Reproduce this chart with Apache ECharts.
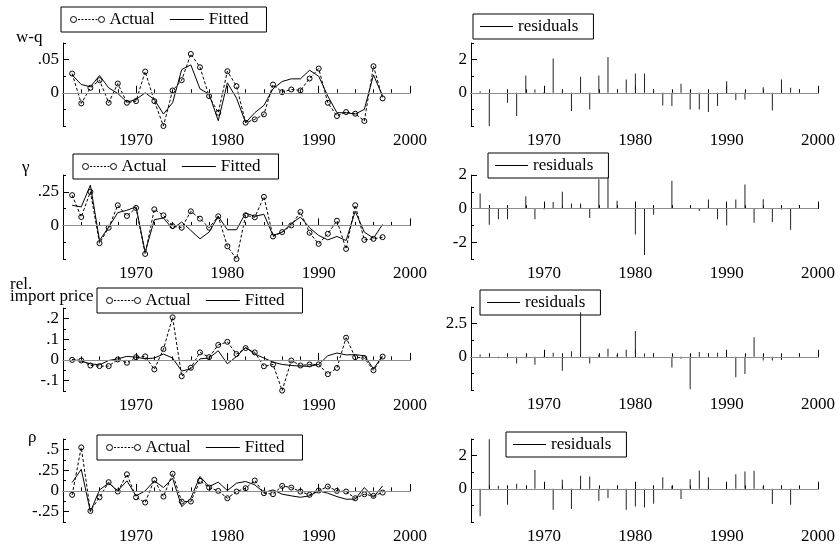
<!DOCTYPE html>
<html><head><meta charset="utf-8">
<script src="https://cdn.jsdelivr.net/npm/echarts@6/dist/echarts.min.js"></script>
<style>html,body{margin:0;padding:0;background:#fff}#c{width:840px;height:553px}</style>
</head><body><div id="c"></div>
<script>
// ---------------- data ----------------
const years = [1963,1964,1965,1966,1967,1968,1969,1970,1971,1972,1973,1974,1975,1976,1977,1978,1979,1980,1981,1982,1983,1984,1985,1986,1987,1988,1989,1990,1991,1992,1993,1994,1995,1996,1997];
const xTickLabels = [1970,1980,1990,2000];

const wqActual = [0.029,-0.016,0.0075,0.019,-0.015,0.014,-0.015,-0.0125,0.032,-0.0125,-0.05,0.0035,0.019,0.0585,0.0385,-0.005,-0.03,0.0325,0.01,-0.045,-0.04,-0.0325,0.0125,0.001,0.005,0.0035,0.0215,0.0365,-0.015,-0.035,-0.029,-0.0315,-0.0425,0.04,-0.0085];
const wqFitted = [0.027,0.0125,0.009,0.026,0.0075,-0.001,-0.014,-0.01,0,-0.01,-0.032,-0.015,0.035,0.042,0.006,-0.002,-0.042,0.015,-0.008,-0.045,-0.03,-0.019,0.006,0.017,0.021,0.021,0.034,0.025,-0.005,-0.03,-0.03,-0.032,-0.025,0.027,-0.005];
const wqResid = [0.1,-2.0,0,-0.6,-1.4,1.04,0.2,0.05,2.06,0.1,-1.1,0.96,-1.0,1.04,2.16,0,0.8,1.16,1.16,0.15,-0.76,-0.8,0.54,-1.0,-1.0,-1.16,-0.8,0.7,-0.44,-0.4,0,0.34,-1.06,0.8,0.3];

const gammaActual = [0.225,0.0625,0.25,-0.1325,-0.0175,0.15,0.07,0.13,-0.2125,0.12,0.075,-0.005,-0.0175,0.105,0.05,-0.0175,0.0675,-0.155,-0.25,0.075,0.06,0.2125,-0.0825,-0.05,0,0.1,-0.055,-0.1375,-0.0625,0.035,-0.175,0.15,-0.1075,-0.1,-0.0875];
const gammaFitted = [0.15,0.1375,0.3,-0.1125,-0.0125,0.095,0.1125,0.1375,-0.2,0.0425,0.055,-0.025,0.025,-0.0375,-0.1,-0.05,0.0675,-0.0325,-0.0325,0.0925,0.0675,0.0825,-0.075,-0.05,0.0125,0.0625,-0.0175,-0.075,-0.1075,-0.0825,-0.1125,0.105,-0.05,-0.095,0.0075];
const gammaResid = [0.9,-0.96,-0.64,-0.64,0,0.74,-0.64,-0.05,0.4,1.0,0.3,0.3,-0.56,1.74,1.85,0.46,0,-1.54,-2.76,-0.36,0,1.66,0.02,0,-0.15,0.54,-0.64,-1.0,0.54,1.44,-0.84,0.56,-0.8,-0.05,-1.26];

const impActual = [0,-0.003,-0.027,-0.03,-0.03,0.002,-0.014,0.013,0.017,-0.046,0.052,0.205,-0.079,-0.038,0.036,0.013,0.072,0.087,0.028,0.057,0.036,-0.031,-0.022,-0.148,-0.003,-0.027,-0.022,-0.022,-0.069,-0.039,0.107,0.013,0.009,-0.05,0.016];
const impFitted = [0.002,-0.006,-0.019,-0.024,-0.003,0.005,0.017,0.013,0.005,0.009,0.028,0.009,-0.054,-0.043,0.005,0.009,0.044,-0.019,0.016,0.06,0.028,0.009,-0.011,-0.022,-0.027,-0.03,-0.031,-0.022,0.02,0.033,0.024,0.025,0.02,-0.043,0.02];
const impResid = [0.17,-0.05,-0.1,-0.1,-0.5,-0.1,-0.6,0.05,0.3,-1.05,0.42,3.36,-0.5,0.17,0.6,0.15,0.54,1.94,0.25,0.05,0,-0.8,-0.15,-2.45,0.37,0,0.3,0,-1.54,-1.3,1.47,-0.27,-0.27,-0.25,0];

const rhoActual = [-0.048,0.524,-0.242,-0.077,0.105,-0.008,0.2,-0.077,-0.141,0.133,-0.069,0.206,-0.129,-0.129,0.121,0.04,0,-0.089,-0.008,0.032,0.125,-0.028,-0.04,0.06,0.04,-0.008,-0.048,0.004,0.052,0,-0.008,-0.089,-0.04,-0.06,-0.02];
const rhoFitted = [0.1,0.26,-0.25,0.012,0.093,0,0.121,-0.06,0,0.121,0.04,0.153,-0.19,-0.089,0.173,0.052,0.105,0.004,0.093,0.113,0.073,-0.02,0.012,-0.04,-0.06,-0.077,-0.06,0,-0.028,-0.069,-0.1,-0.1,0.04,-0.077,0.06];
const rhoResid = [-1.66,2.98,0.18,-0.96,0.3,0,1.14,0,-1.26,0.54,-1.22,0.78,0.74,-0.72,-0.56,0,-1.26,-1.06,-1.12,-0.9,0.7,0.18,-0.62,0.58,1.1,0.7,0,0,0.88,1.04,1.08,0.14,-0.92,0.1,-0.96];

// y tick labels per panel
const wqTicks = [0, 0.05];
const gammaTicks = [0, 0.25];
const impTicks = [-0.1, 0, 0.1, 0.2];
const rhoTicks = [-0.25, 0, 0.25, 0.5];
const wqResTicks = [0, 2];
const gammaResTicks = [-2, 0, 2];
const impResTicks = [0, 2.5];
const rhoResTicks = [0, 2];

// ---------------- layout ----------------
const FONT = 'Liberation Serif';
const FS = 17;
const panels = [
  {kind:'line', a:wqActual, f:wqFitted, min:-0.05, max:0.075, step:0.025, labels:wqTicks, left:63, top:43, h:83, legend:{left:61, top:7}},
  {kind:'bar', r:wqResid, min:-2, max:3, step:1, labels:wqResTicks, left:471, top:43, h:83, legend:{left:473, top:14}},
  {kind:'line', a:gammaActual, f:gammaFitted, min:-0.25, max:0.375, step:0.125, labels:gammaTicks, left:63, top:175, h:84, legend:{left:73, top:154}},
  {kind:'bar', r:gammaResid, min:-3, max:2, step:1, labels:gammaResTicks, left:471, top:175, h:84, legend:{left:488, top:153}},
  {kind:'line', a:impActual, f:impFitted, min:-0.15, max:0.25, step:0.05, labels:impTicks, left:63, top:308, h:83, legend:{left:97, top:288}},
  {kind:'bar', r:impResid, min:-2.5, max:3.75, step:1.25, labels:impResTicks, left:471, top:307, h:83, legend:{left:480, top:290}},
  {kind:'line', a:rhoActual, f:rhoFitted, min:-0.375, max:0.625, step:0.125, labels:rhoTicks, left:63, top:439, h:83, legend:{left:97, top:435}},
  {kind:'bar', r:rhoResid, min:-2, max:3, step:1, labels:rhoResTicks, left:471, top:439, h:83, legend:{left:506, top:432}}
];

function fmt(v){
  if (Math.abs(v) < 1e-9) return '0';
  const s = String(+v.toFixed(4));
  return s.replace(/^(-?)0\./, '$1.');
}
function inList(v, list, tol){ return list.some(t => Math.abs(t - v) < tol); }

function actualIcon(w){
  let p = 'M0 3 A3 3 0 1 1 6 3 A3 3 0 1 1 0 3 Z M' + (w-6) + ' 3 A3 3 0 1 1 ' + w + ' 3 A3 3 0 1 1 ' + (w-6) + ' 3 Z';
  for (let x = 7.5; x < w - 7; x += 3.5) p += ' M' + x + ' 3 L' + Math.min(x + 2, w - 7) + ' 3';
  return 'path://' + p;
}
function lineIcon(w){
  return 'path://M0 0 L0 0 M0 2.5 L' + w + ' 2.5 L' + w + ' 3.5 L0 3.5 Z M' + w + ' 6 L' + w + ' 6';
}

const grid = [], xAxis = [], yAxis = [], series = [], legend = [];
const zeroLine = {silent:true, symbol:['none','none'], label:{show:false}, lineStyle:{color:'#8c8c8c', width:1, type:'solid'}, emphasis:{disabled:true}, data:[{yAxis:0}], animation:false};

panels.forEach((p, i) => {
  grid.push({left:p.left, top:p.top, width:347, height:p.h, containLabel:false});
  const tol = p.step * 1e-3;
  xAxis.push({type:'value', gridIndex:i, min:1962, max:2000, interval:2,
    axisLine:{show:true, lineStyle:{color:'#000', width:1}},
    axisTick:{show:true, inside:true, length:3.5, lineStyle:{color:'#000', width:1}},
    axisLabel:{show:true, color:'#000', fontFamily:FONT, fontSize:FS, margin:6,
      formatter: v => inList(v, xTickLabels, 0.01) ? String(Math.round(v)) : ''},
    splitLine:{show:false}});
  xAxis.push({type:'value', gridIndex:i, min:1962, max:2000, position:'bottom',
    axisLine:{show:false}, axisLabel:{show:false}, splitLine:{show:false},
    axisTick:{show:true, inside:true, length:7, customValues:xTickLabels, lineStyle:{color:'#000', width:1}}});
  yAxis.push({type:'value', gridIndex:i, min:p.min, max:p.max, interval:p.step,
    axisLine:{show:true, lineStyle:{color:'#000', width:1}},
    axisTick:{show:true, inside:true, length:3, lineStyle:{color:'#000', width:1}},
    axisLabel:{show:true, color:'#000', fontFamily:FONT, fontSize:FS, margin:4,
      formatter: v => inList(v, p.labels, tol) ? fmt(v) : ''},
    splitLine:{show:false}});
  yAxis.push({type:'value', gridIndex:i, min:p.min, max:p.max, position:'left',
    axisLine:{show:false}, axisLabel:{show:false}, splitLine:{show:false},
    axisTick:{show:true, inside:true, length:6, customValues:p.labels, lineStyle:{color:'#000', width:1}}});

  if (p.kind === 'line') {
    series.push({type:'line', name:'Actual', xAxisIndex:2*i, yAxisIndex:2*i,
      data: years.map((y,k) => [y, p.a[k]]), symbol:'circle', symbolSize:5, showSymbol:true,
      itemStyle:{color:'rgba(0,0,0,0)', borderColor:'#000', borderWidth:1},
      lineStyle:{color:'#000', width:1, type:[3,2]}, z:4, animation:false, silent:true});
    series.push({type:'line', name:'Fitted', xAxisIndex:2*i, yAxisIndex:2*i,
      data: years.map((y,k) => [y, p.f[k]]), symbol:'none', showSymbol:false,
      itemStyle:{color:'#000'}, lineStyle:{color:'#000', width:1}, z:3, animation:false, silent:true,
      markLine: zeroLine});
    legend.push({show:true, left:p.legend.left, top:p.legend.top, orient:'horizontal',
      itemWidth:34, itemHeight:6, itemGap:15, padding:[4,18,4,9], borderColor:'#000', borderWidth:1,
      selectedMode:false, textStyle:{fontFamily:FONT, fontSize:FS, color:'#000'},
      data:[{name:'Actual', icon:actualIcon(34), itemStyle:{color:'rgba(0,0,0,0)', borderColor:'#000', borderWidth:1}},
            {name:'Fitted', icon:lineIcon(34), itemStyle:{color:'#000', borderWidth:0}}]});
  } else {
    series.push({type:'bar', name:'residuals', xAxisIndex:2*i, yAxisIndex:2*i,
      data: years.map((y,k) => [y, p.r[k]]), barWidth:1, itemStyle:{color:'#222'},
      animation:false, silent:true, markLine: zeroLine});
    legend.push({show:true, left:p.legend.left, top:p.legend.top, orient:'horizontal',
      itemWidth:33, itemHeight:6, itemGap:10, padding:[4,15,4,7], borderColor:'#000', borderWidth:1,
      selectedMode:false, textStyle:{fontFamily:FONT, fontSize:FS, color:'#000'},
      data:[{name:'residuals', icon:lineIcon(33), itemStyle:{color:'#000', borderWidth:0}}]});
  }
});

const nameFont = FS + 'px "Liberation Serif"';
const graphic = [
  {type:'text', x:16, y:38, style:{text:'w-q', font:nameFont, fill:'#000', verticalAlign:'middle'}},
  {type:'text', x:22, y:168, style:{text:'γ', font:nameFont, fill:'#000', verticalAlign:'middle'}},
  {type:'text', x:10, y:285, style:{text:'rel.', font:nameFont, fill:'#000', verticalAlign:'middle'}},
  {type:'text', x:10, y:297, style:{text:'import price', font:nameFont, fill:'#000', verticalAlign:'middle'}},
  {type:'text', x:28, y:438, style:{text:'ρ', font:nameFont, fill:'#000', verticalAlign:'middle'}}
];

const chart = echarts.init(document.getElementById('c'), null, {renderer:'canvas'});
chart.setOption({backgroundColor:'#fff', animation:false, grid, xAxis, yAxis, series, legend, graphic});
</script>
</body></html>
